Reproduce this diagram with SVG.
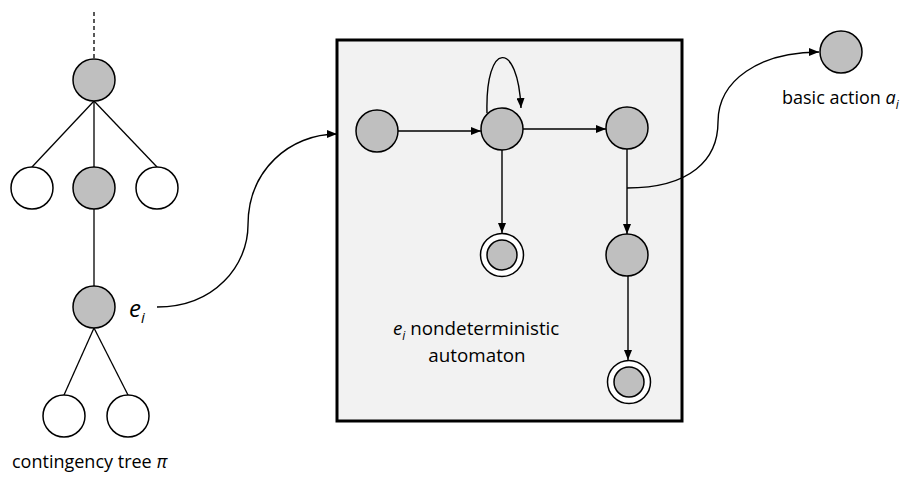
<svg xmlns="http://www.w3.org/2000/svg" width="902" height="482" viewBox="0 0 902 482">
  <style>
    .state { fill: #bfbfbf; stroke: #000; stroke-width: 1.5; }
    .leaf { fill: #fff; stroke: #000; stroke-width: 1.5; }
    .ring { fill: #fff; stroke: #000; stroke-width: 1.5; }
    .edge { fill: none; stroke: #000; stroke-width: 1.3; }
    .arrow { fill: none; stroke: #000; stroke-width: 1.4; marker-end: url(#head); }
    .label { font-family: "Open Sans", "Liberation Sans", sans-serif; font-size: 18px; fill: #000; }
  </style>
  <defs>
    <marker id="head" viewBox="0 0 10 8" refX="10" refY="4" markerWidth="10" markerHeight="8" markerUnits="userSpaceOnUse" orient="auto">
      <path d="M0,0 L10,4 L0,8 Z" fill="#000"/>
    </marker>
  </defs>

  <rect id="white" x="0" y="0" width="902" height="482" fill="#fff"/>

  <!-- automaton frame -->
  <g id="automaton-box">
    <rect x="337" y="40" width="345" height="381" fill="#f2f2f2" stroke="#000" stroke-width="3"/>
  </g>

  <!-- connectors -->
  <g id="connectors">
    <!-- contingency tree edges -->
    <line class="edge" x1="94" y1="12" x2="94" y2="59" stroke-dasharray="4,3"/>
    <line class="edge" x1="94" y1="101" x2="32" y2="167"/>
    <line class="edge" x1="94" y1="101" x2="94" y2="167"/>
    <line class="edge" x1="94" y1="101" x2="157" y2="167"/>
    <line class="edge" x1="94" y1="209" x2="94" y2="286"/>
    <line class="edge" x1="94" y1="328" x2="64" y2="395"/>
    <line class="edge" x1="94" y1="328" x2="128" y2="395"/>

    <!-- e_i expands into the automaton -->
    <path class="arrow" d="M157,307 C215,307 248,265 248,225 C248,170 290,134 337,134"/>

    <!-- automaton transitions -->
    <line class="arrow" x1="398" y1="131" x2="481" y2="131"/>
    <line class="arrow" x1="523" y1="129" x2="606" y2="129"/>
    <path class="arrow" d="M487,113 C485,40 518,40 521,108"/>
    <line class="arrow" x1="502" y1="150" x2="502" y2="233"/>
    <line class="arrow" x1="627" y1="149" x2="627" y2="234"/>
    <line class="arrow" x1="628" y1="276" x2="628" y2="360"/>

    <!-- transition labelled by a basic action -->
    <path class="arrow" d="M627,188 C690,188 718,160 718,122 C718,80 760,52 819,52"/>
  </g>

  <!-- contingency tree nodes -->
  <g id="tree-root"><circle class="state" cx="94" cy="80" r="21"/></g>
  <g id="tree-left"><circle class="leaf" cx="32" cy="188" r="21"/></g>
  <g id="tree-mid"><circle class="state" cx="94" cy="188" r="21"/></g>
  <g id="tree-right"><circle class="leaf" cx="157" cy="188" r="21"/></g>
  <g id="tree-ei">
    <circle class="state" cx="94" cy="307" r="21"/>
    <text x="129" y="317" font-family="Open Sans, Liberation Sans, sans-serif" font-size="24" font-style="italic">e<tspan font-size="15" dy="6">i</tspan></text>
  </g>
  <g id="tree-leaf-a"><circle class="leaf" cx="64" cy="416" r="21"/></g>
  <g id="tree-leaf-b"><circle class="leaf" cx="128" cy="416" r="21"/></g>
  <g id="tree-caption">
    <text class="label" x="12" y="468">contingency tree <tspan font-style="italic">π</tspan></text>
  </g>

  <!-- automaton states -->
  <g id="q0"><circle class="state" cx="377" cy="131" r="21"/></g>
  <g id="q1"><circle class="state" cx="502" cy="129" r="21"/></g>
  <g id="q2"><circle class="state" cx="627" cy="128" r="21"/></g>
  <g id="q3">
    <circle class="ring" cx="502" cy="255" r="21.5"/>
    <circle class="state" cx="502" cy="255" r="15"/>
  </g>
  <g id="q4"><circle class="state" cx="627" cy="255" r="21"/></g>
  <g id="q5">
    <circle class="ring" cx="629" cy="382" r="21.5"/>
    <circle class="state" cx="629" cy="382" r="15"/>
  </g>
  <g id="automaton-caption" font-size="18.8">
    <text class="label" x="393" y="335" style="font-size:18.8px"><tspan font-style="italic">e</tspan><tspan font-style="italic" font-size="12" dy="5">i</tspan><tspan dy="-5"> nondeterministic</tspan></text>
    <text class="label" x="477" y="362" text-anchor="middle" style="font-size:18.8px">automaton</text>
  </g>

  <!-- basic action -->
  <g id="basic-action">
    <circle class="state" cx="841" cy="52" r="21"/>
    <text class="label" x="782" y="104">basic action <tspan font-style="italic">a</tspan><tspan font-style="italic" font-size="12" dy="5">i</tspan></text>
  </g>
</svg>
